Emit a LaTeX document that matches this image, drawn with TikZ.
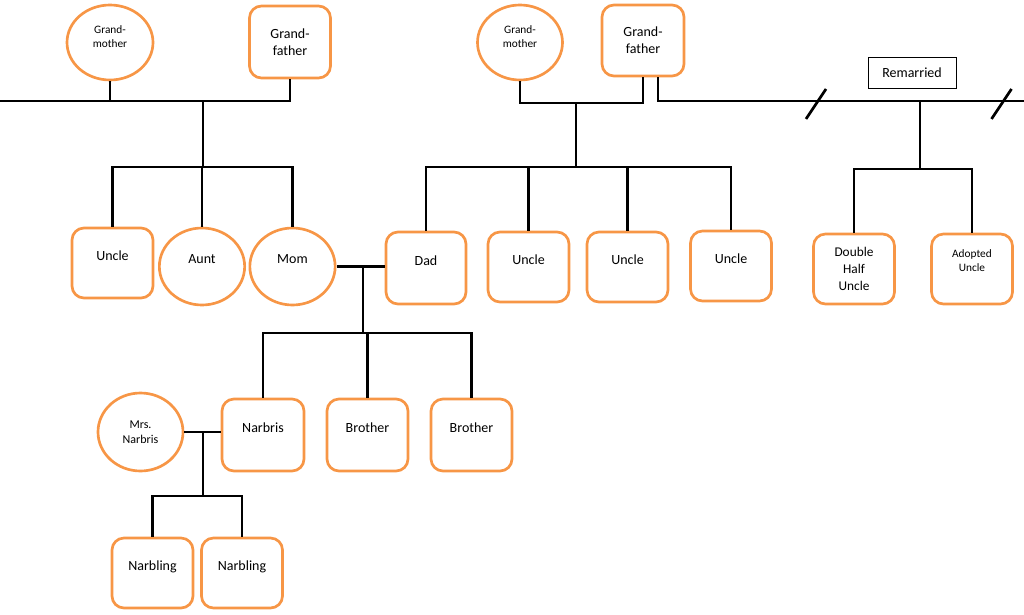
\documentclass[tikz,border=0pt]{standalone}
\usepackage{fontspec}
\setmainfont{Carlito}
\usepackage{xcolor}
\usepackage{tikz}
\usetikzlibrary{shapes.geometric}
\definecolor{kinorange}{HTML}{F79646}

\begin{document}
\begin{tikzpicture}[
    x=0.75pt, y=-0.75pt,
    person/.style={draw=kinorange, line width=2pt, fill=white, align=center, font=\fontsize{10.5}{12.5}\selectfont},
    male/.style={person, rectangle, rounded corners=9pt, minimum width=60.75pt, minimum height=52.5pt},
    female/.style={person, ellipse, minimum width=64pt, minimum height=57.75pt},
    topline/.style={text height=7.5pt, text depth=12pt},
    link/.style={draw, line width=2.2pt}
]
    \useasboundingbox (0,0) rectangle (1024,614);

    % Grandparents
    \node[female, minimum width=64.5pt, minimum height=56.25pt, text depth=9pt, font=\fontsize{8.5}{10.5}\selectfont] (gmL) at (110,42.5) {Grand-\\mother};
    \node[male, minimum height=54pt, font=\fontsize{10.5}{12.75}\selectfont] (gfL) at (290,42) {Grand-\\father};
    \node[female, minimum width=63.75pt, minimum height=56.25pt, text depth=9pt, font=\fontsize{8.5}{10.5}\selectfont] (gmR) at (520,42.5) {Grand-\\mother};
    \node[male, minimum width=61.5pt, minimum height=53.25pt, font=\fontsize{10.5}{12.75}\selectfont] (gfR) at (643,40.5) {Grand-\\father};
    \node[draw, line width=0.75pt, minimum width=66pt, minimum height=23.25pt, font=\fontsize{10.5}{12.5}\selectfont] (remar) at (912,72.5) {Remarried};

    % Parents' generation
    \node[male, topline] (uncA) at (112.5,263) {Uncle};
    \node[female, topline] (aunt) at (202,266.5) {Aunt};
    \node[female, topline] (mom) at (292.5,266.5) {Mom};
    \node[male, topline, minimum width=60pt, minimum height=54pt] (dad) at (426,268) {Dad};
    \node[male, topline] (uncB) at (528.5,267) {Uncle};
    \node[male, topline] (uncC) at (627.5,267) {Uncle};
    \node[male, topline] (uncD) at (731,266) {Uncle};
    \node[male, font=\fontsize{10}{13}\selectfont] (dhu) at (854,269) {Double\\Half\\Uncle};
    \node[male, text depth=12pt, font=\fontsize{8.5}{10.5}\selectfont] (adU) at (972,269) {Adopted\\Uncle};

    % Narbris and brothers
    \node[female, minimum width=63.75pt, minimum height=58.5pt, font=\fontsize{9}{11.25}\selectfont] (mrs) at (140.5,432) {Mrs.\\Narbris};
    \node[male, topline, minimum width=61.5pt, minimum height=54pt] (narbris) at (263,435) {Narbris};
    \node[male, topline, minimum height=54pt] (broA) at (367.5,435) {Brother};
    \node[male, topline, minimum height=54pt] (broB) at (471.5,435) {Brother};

    % Narblings
    \node[male, topline] (narbA) at (152.5,573) {Narbling};
    \node[male, topline] (narbB) at (242,573) {Narbling};

    % Junctions
    \coordinate (edgeL) at (0,101);
    \coordinate (gp1) at (203,101);
    \coordinate (sib1) at (203,167);
    \coordinate (gp2) at (576,103);
    \coordinate (sib2) at (576,167);
    \coordinate (edgeR) at (1024,101);
    \coordinate (rm) at (920,101);
    \coordinate (sib5) at (920,169);
    \coordinate (md) at (363,267);
    \coordinate (sib3) at (363,333);
    \coordinate (nn) at (203,432);
    \coordinate (sib4) at (203,496);
    \coordinate (cut1) at (816,104);
    \coordinate (cut2) at (1001.5,104);

    % Left family
    \draw[link] (edgeL) -- (edgeL -| gfL.south) -- (gfL.south);
    \draw[link] (gmL.south) -- (gmL.south |- edgeL);
    \draw[link] (gp1) -- (sib1);
    \foreach \kid in {uncA, aunt, mom}
        \draw[link] (sib1) -| (\kid.north);

    % Right family
    \draw[link] (gmR.south) |- (gp2) -| (gfR.south);
    \draw[link] (gp2) -- (sib2);
    \foreach \kid in {dad, uncB, uncC, uncD}
        \draw[link] (sib2) -| (\kid.north);

    % Remarriage
    \draw[link] ([xshift=11.25pt]gfR.south) |- (edgeR);
    \draw[link, line width=2pt] ([shift={(-10,15)}]cut1) -- ([shift={(10,-15)}]cut1);
    \draw[link, line width=2pt] ([shift={(-10,15)}]cut2) -- ([shift={(10,-15)}]cut2);
    \draw[link] (rm) -- (sib5);
    \foreach \kid in {dhu, adU}
        \draw[link] (sib5) -| (\kid.north);

    % Mom and Dad
    \draw[link] (mom.east) -- (mom.east -| dad.west);
    \draw[link] (md) -- (sib3);
    \foreach \kid in {narbris, broA, broB}
        \draw[link] (sib3) -| (\kid.north);

    % Narbris and Mrs. Narbris
    \draw[link] (mrs.east) -- (mrs.east -| narbris.west);
    \draw[link] (nn) -- (sib4);
    \foreach \kid in {narbA, narbB}
        \draw[link] (sib4) -| (\kid.north);
\end{tikzpicture}
\end{document}
